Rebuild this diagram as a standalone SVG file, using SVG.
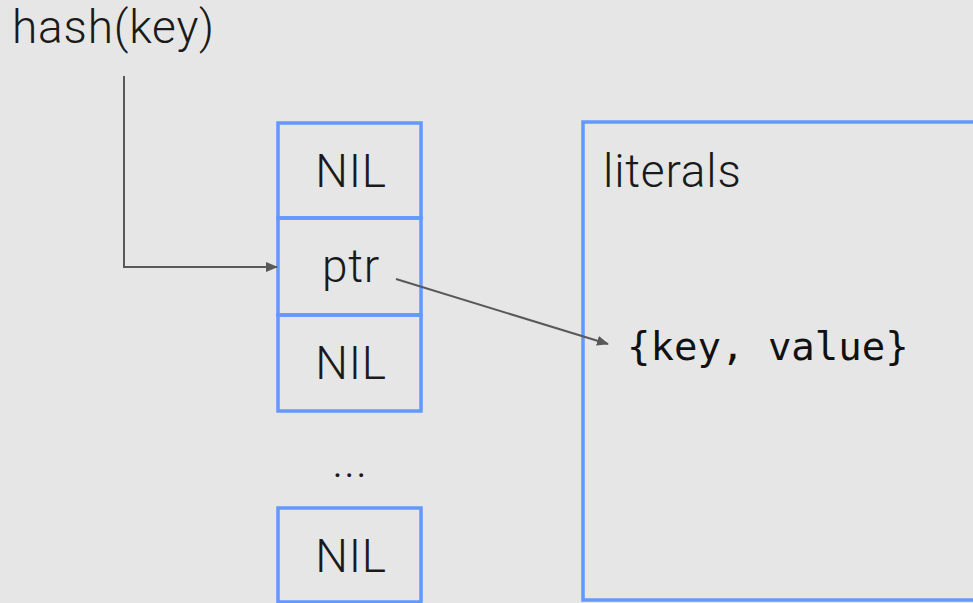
<svg xmlns="http://www.w3.org/2000/svg" width="973" height="603" viewBox="0 0 973 603">
  <defs>
    <marker id="arrow" viewBox="0 0 12 10" refX="11" refY="5" markerWidth="12" markerHeight="10" markerUnits="userSpaceOnUse" orient="auto">
      <path d="M0,0 L12,5 L0,10 z" fill="#595959"/>
    </marker>
    <style>
      .cell { fill: none; stroke: #6398fd; stroke-width: 3.5; }
      .label { font-family: Roboto, "Open Sans", "Liberation Sans", sans-serif; font-weight: 300; font-size: 46px; fill: #1a1a1a; letter-spacing: 0.8px; }
      .mono { font-family: "DejaVu Sans Mono", "Liberation Mono", monospace; font-size: 39px; fill: #111; }
      .wire { fill: none; stroke: #595959; stroke-width: 2; }
    </style>
  </defs>
  <rect width="973" height="603" fill="#e6e6e6"/>

  <text id="hash" class="label" x="12" y="43">hash(key)</text>

  <g id="bucket-0">
    <rect class="cell" x="278" y="123" width="143" height="95"/>
    <text class="label" x="351" y="187" text-anchor="middle">NIL</text>
  </g>
  <g id="bucket-1">
    <rect class="cell" x="278" y="218" width="143" height="97"/>
    <text class="label" x="351" y="282" text-anchor="middle">ptr</text>
  </g>
  <g id="bucket-2">
    <rect class="cell" x="278" y="315" width="143" height="96"/>
    <text class="label" x="351" y="379" text-anchor="middle">NIL</text>
  </g>
  <g id="ellipsis">
    <text class="label" x="350" y="477" text-anchor="middle" font-size="30">...</text>
  </g>
  <g id="bucket-n">
    <rect class="cell" x="278" y="508" width="143" height="94"/>
    <text class="label" x="351" y="572" text-anchor="middle">NIL</text>
  </g>

  <g id="literals">
    <rect class="cell" x="583" y="122" width="420" height="478"/>
    <text class="label" x="603" y="187">literals</text>
    <text class="mono" x="627" y="360">{key, value}</text>
  </g>

  <g id="connectors">
    <path class="wire" d="M124,76 V267 H277" marker-end="url(#arrow)"/>
    <path class="wire" d="M396,279 L608,344" marker-end="url(#arrow)"/>
  </g>
</svg>
